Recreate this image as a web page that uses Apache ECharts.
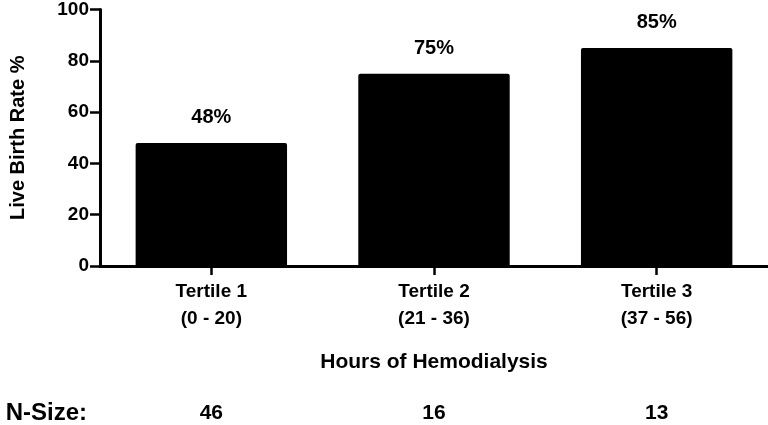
<!DOCTYPE html>
<html>
<head>
<meta charset="utf-8">
<script src="https://cdn.jsdelivr.net/npm/echarts@6/dist/echarts.min.js"></script>
<style>
  html, body { margin: 0; padding: 0; background: #fff; }
  #chart { width: 768px; height: 425px; }
</style>
</head>
<body>
<div id="chart"></div>
<script>
const categories = ['Tertile 1\n(0 - 20)', 'Tertile 2\n(21 - 36)', 'Tertile 3\n(37 - 56)'];
const liveBirthRate = [48, 75, 85];
const nSizes = ['46', '16', '13'];
const yTicks = { min: 0, max: 100, interval: 20 };

const font = 'Liberation Sans, Arial, Helvetica, sans-serif';

const chart = echarts.init(document.getElementById('chart'));

const option = {
  backgroundColor: '#fff',
  animation: false,
  grid: { left: 96, right: 0, top: 7, bottom: 153 },
  xAxis: [
    {
      type: 'category',
      data: categories,
      name: 'Hours of Hemodialysis',
      nameLocation: 'middle',
      nameGap: 86,
      nameTextStyle: { color: '#000', fontFamily: font, fontWeight: 'bold', fontSize: 21 },
      axisLine: { lineStyle: { color: '#000', width: 3 } },
      axisTick: { show: true, alignWithLabel: true, length: 9, lineStyle: { color: '#000', width: 2.5 } },
      axisLabel: {
        color: '#000', fontFamily: font, fontWeight: 'bold', fontSize: 19,
        lineHeight: 27, margin: 12
      }
    },
    {
      type: 'category',
      data: nSizes,
      position: 'bottom',
      offset: 147,
      name: 'N-Size:',
      nameLocation: 'start',
      nameGap: 13,
      nameTextStyle: {
        color: '#000', fontFamily: font, fontWeight: 'bold', fontSize: 24,
        align: 'right', verticalAlign: 'middle'
      },
      axisLine: { show: false },
      axisTick: { show: false },
      axisLabel: {
        color: '#000', fontFamily: font, fontWeight: 'bold', fontSize: 21,
        margin: 0, verticalAlign: 'middle'
      }
    }
  ],
  yAxis: {
    type: 'value',
    min: yTicks.min,
    max: yTicks.max,
    interval: yTicks.interval,
    name: 'Live Birth Rate %',
    nameLocation: 'middle',
    nameGap: 72,
    nameTextStyle: { color: '#000', fontFamily: font, fontWeight: 'bold', fontSize: 20 },
    axisLine: { show: true, lineStyle: { color: '#000', width: 3 } },
    axisTick: { show: true, length: 10, lineStyle: { color: '#000', width: 2.5 } },
    axisLabel: { color: '#000', fontFamily: font, fontWeight: 'bold', fontSize: 19, margin: 11 },
    splitLine: { show: false }
  },
  series: [
    {
      type: 'bar',
      data: liveBirthRate,
      barWidth: '68%',
      itemStyle: { color: '#000', borderRadius: [2, 2, 0, 0] },
      label: {
        show: true,
        position: 'top',
        distance: 15,
        formatter: '{c}%',
        color: '#000',
        fontFamily: font,
        fontWeight: 'bold',
        fontSize: 20
      }
    }
  ]
};

chart.setOption(option);
</script>
</body>
</html>
